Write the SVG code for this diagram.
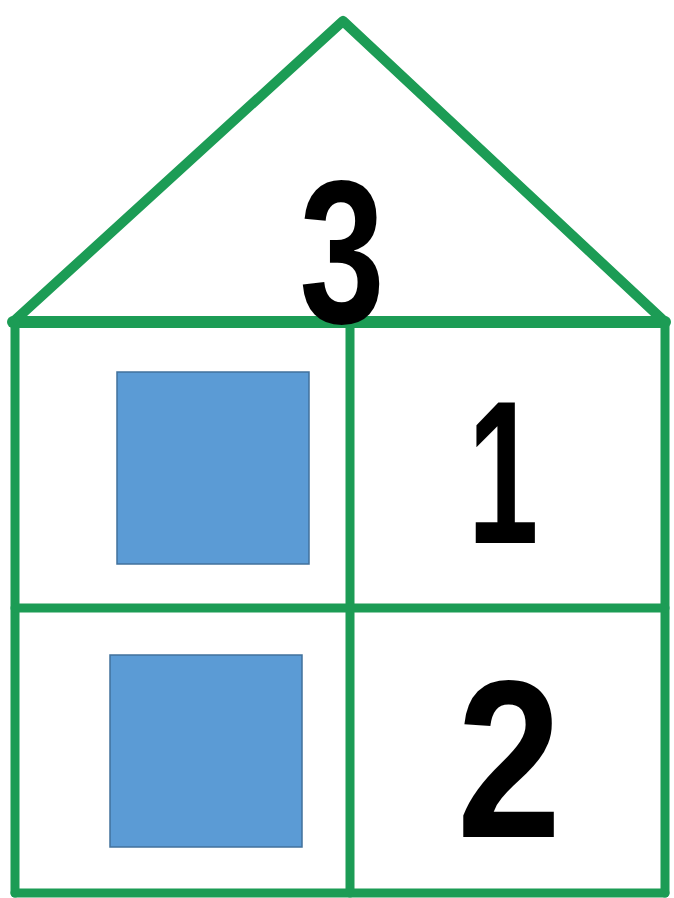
<svg xmlns="http://www.w3.org/2000/svg" width="674" height="898" viewBox="0 0 674 898">
  <style>
    .g { stroke: #1c9c55; fill: none; stroke-linecap: round; stroke-linejoin: round; }
    .box { fill: #5b9bd5; stroke: #41719c; stroke-width: 1.5; }
    .num { font-family: "Liberation Sans", Arial, sans-serif; font-weight: bold; fill: #000; text-anchor: middle; }
  </style>
  <rect width="674" height="898" fill="#ffffff"/>
  <g id="house">
    <polyline class="g" stroke-width="10" points="13,322 343,21 665,322"/>
    <line class="g" stroke-width="12" x1="13" y1="322" x2="665" y2="322"/>
    <line class="g" stroke-width="9" x1="15" y1="322" x2="15" y2="893"/>
    <line class="g" stroke-width="9" x1="665" y1="322" x2="665" y2="893"/>
    <line class="g" stroke-width="9" x1="350" y1="322" x2="350" y2="893"/>
    <line class="g" stroke-width="9" x1="15" y1="608" x2="665" y2="608"/>
    <line class="g" stroke-width="9" x1="15" y1="893" x2="665" y2="893"/>
  </g>
  <g id="roof-label">
    <text class="num" font-size="205" transform="translate(342,323) scale(0.75,1)">3</text>
  </g>
  <g id="cell-top-left">
    <rect class="box" x="117" y="372" width="192" height="192"/>
  </g>
  <g id="cell-top-right">
    <text class="num" font-size="205" transform="translate(503,543) scale(0.62,1)">1</text>
  </g>
  <g id="cell-bottom-left">
    <rect class="box" x="110" y="655" width="192" height="192"/>
  </g>
  <g id="cell-bottom-right">
    <text class="num" font-size="224" transform="translate(509,837) scale(0.84,1)">2</text>
  </g>
</svg>
